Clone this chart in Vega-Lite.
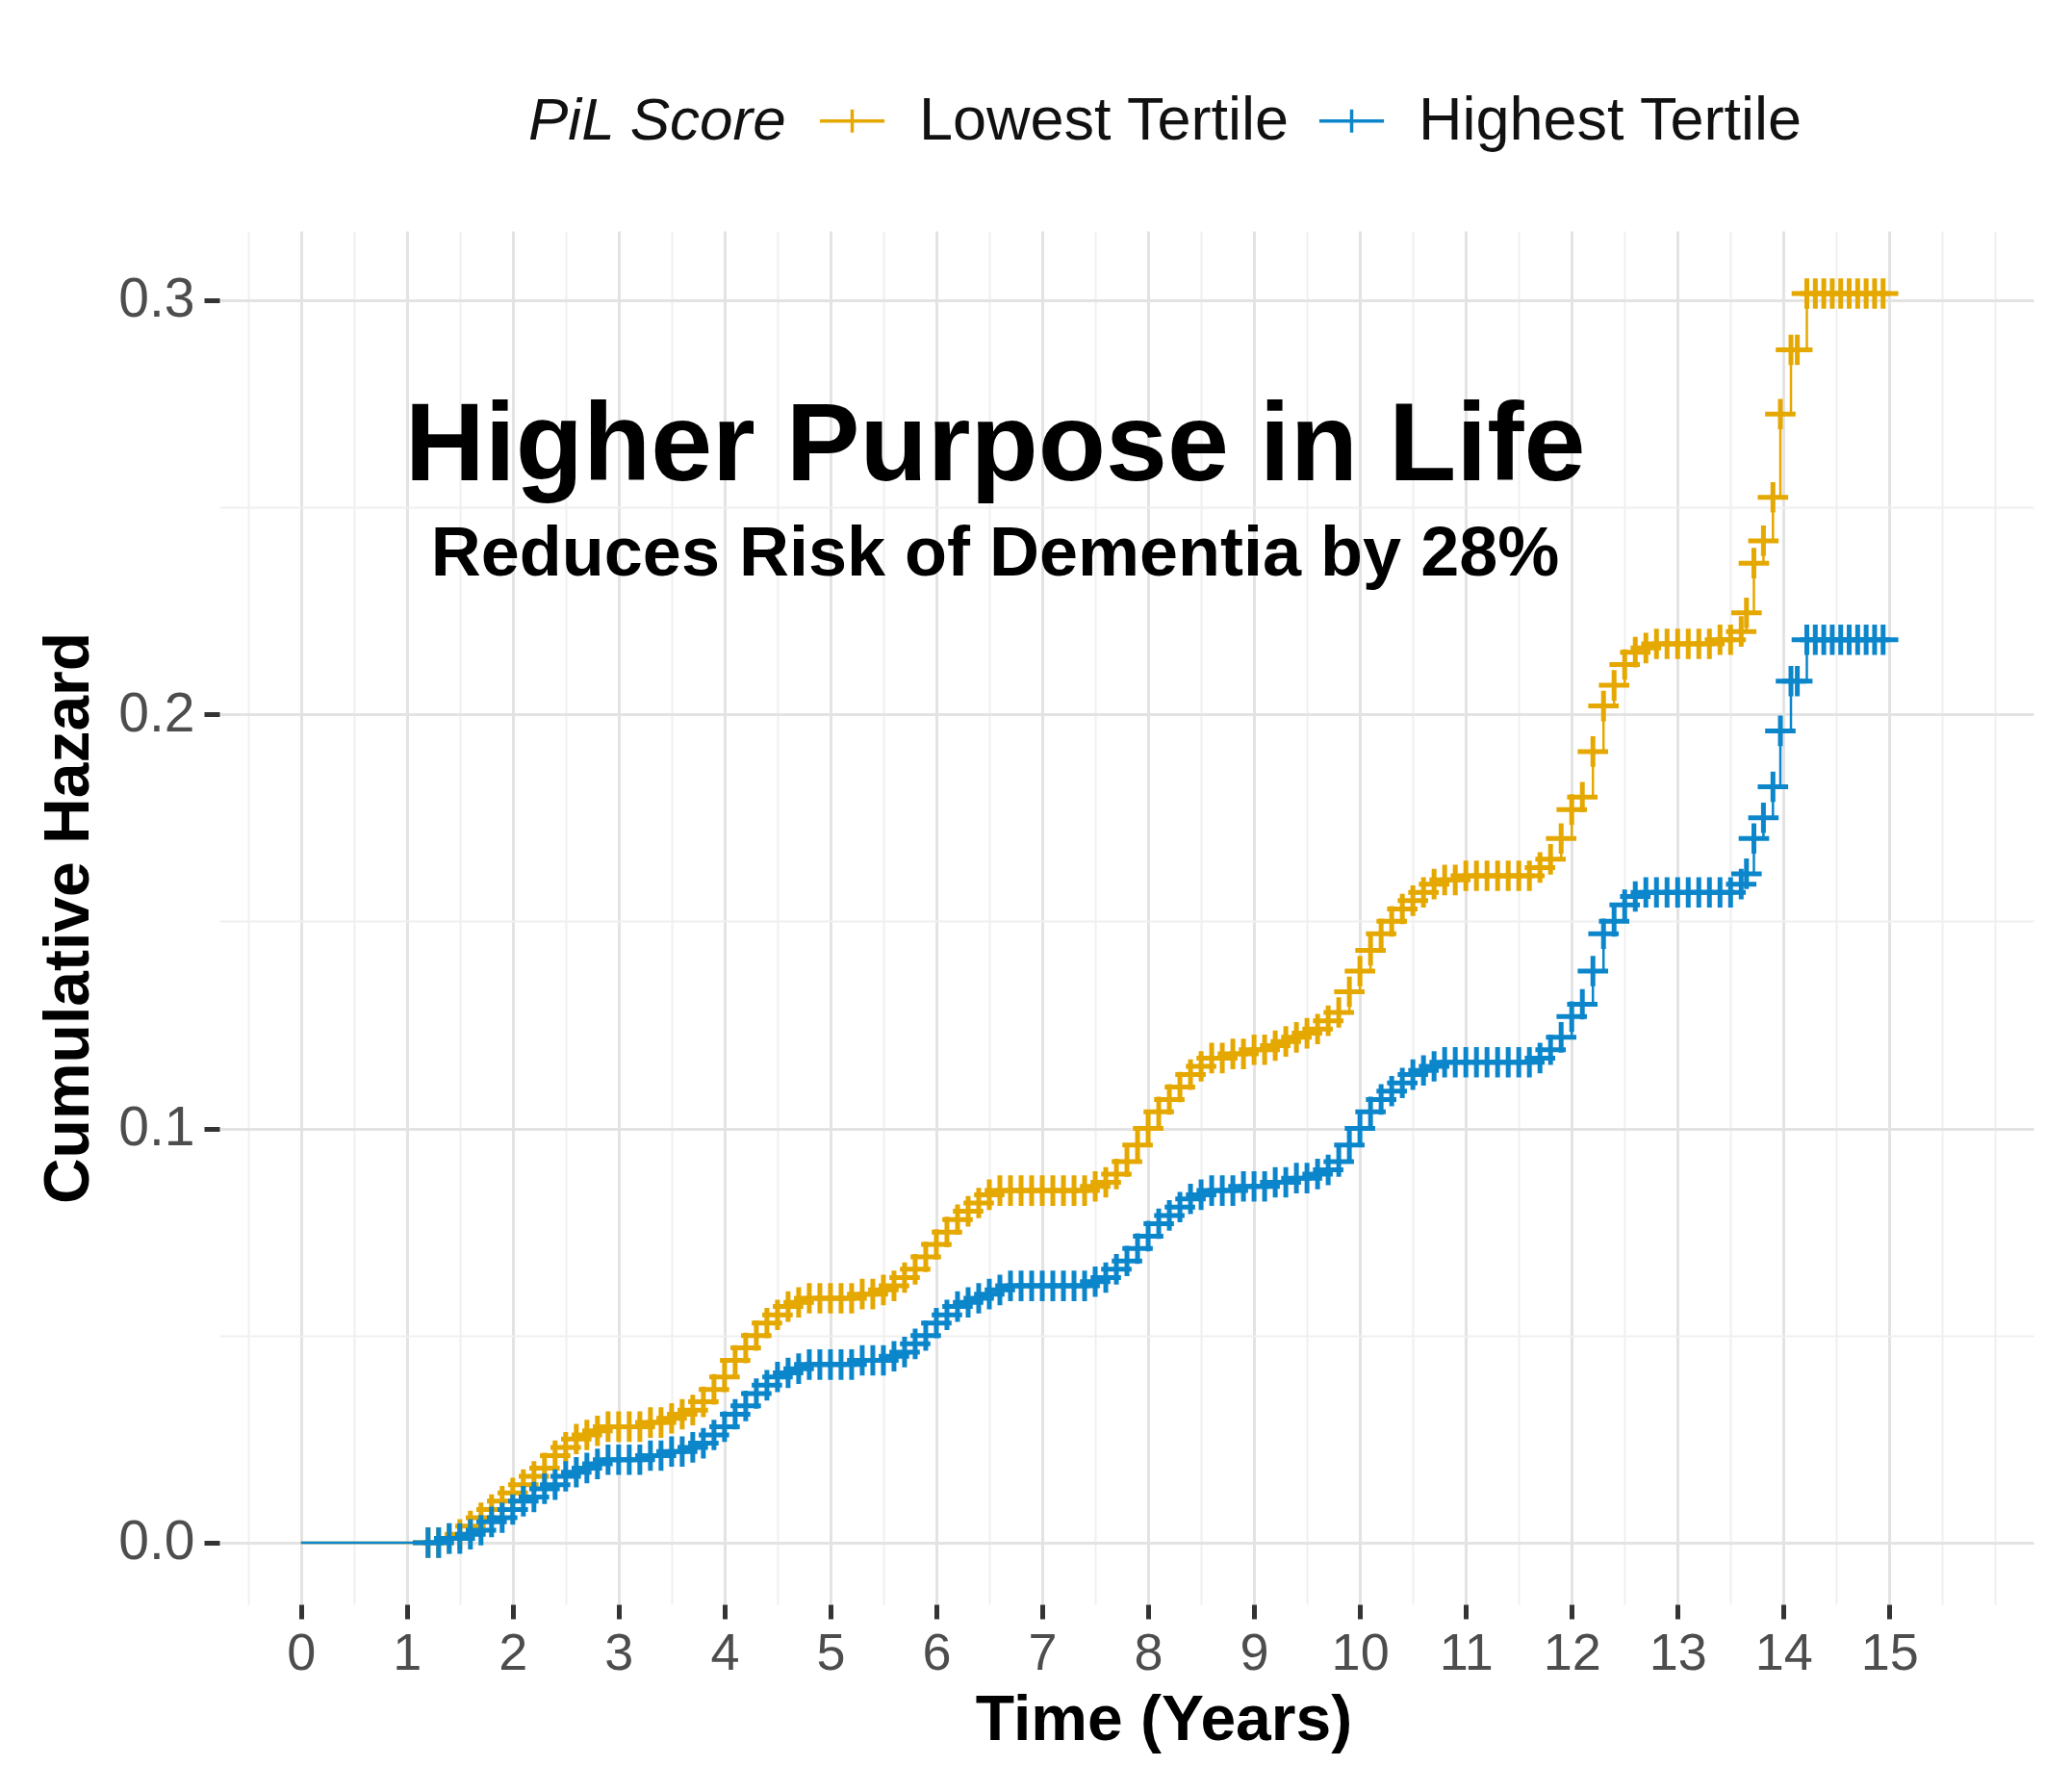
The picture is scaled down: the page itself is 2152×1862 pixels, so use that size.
{
  "$schema": "https://vega.github.io/schema/vega-lite/v6.json",
  "width": 1885,
  "height": 1427,
  "autosize": {"type": "none"},
  "padding": {"left": 228, "top": 240, "right": 39, "bottom": 195},
  "background": "white",
  "config": {
    "view": {"stroke": null},
    "font": "Liberation Sans"
  },
  "data": {
    "values": [
      {"time": 0, "Lowest Tertile": 0, "Highest Tertile": 0, "censor": 0},
      {"time": 1.2, "Lowest Tertile": 0, "Highest Tertile": 0, "censor": 1},
      {"time": 1.3, "Lowest Tertile": 0, "Highest Tertile": 0, "censor": 1},
      {"time": 1.4, "Lowest Tertile": 0.001, "Highest Tertile": 0.001, "censor": 1},
      {"time": 1.5, "Lowest Tertile": 0.002, "Highest Tertile": 0.001, "censor": 1},
      {"time": 1.6, "Lowest Tertile": 0.004, "Highest Tertile": 0.002, "censor": 1},
      {"time": 1.7, "Lowest Tertile": 0.006, "Highest Tertile": 0.003, "censor": 1},
      {"time": 1.8, "Lowest Tertile": 0.008, "Highest Tertile": 0.005, "censor": 1},
      {"time": 1.9, "Lowest Tertile": 0.010, "Highest Tertile": 0.006, "censor": 1},
      {"time": 2.0, "Lowest Tertile": 0.012, "Highest Tertile": 0.008, "censor": 1},
      {"time": 2.1, "Lowest Tertile": 0.014, "Highest Tertile": 0.010, "censor": 1},
      {"time": 2.2, "Lowest Tertile": 0.016, "Highest Tertile": 0.011, "censor": 1},
      {"time": 2.3, "Lowest Tertile": 0.018, "Highest Tertile": 0.013, "censor": 1},
      {"time": 2.4, "Lowest Tertile": 0.021, "Highest Tertile": 0.014, "censor": 1},
      {"time": 2.5, "Lowest Tertile": 0.023, "Highest Tertile": 0.016, "censor": 1},
      {"time": 2.6, "Lowest Tertile": 0.025, "Highest Tertile": 0.017, "censor": 1},
      {"time": 2.7, "Lowest Tertile": 0.026, "Highest Tertile": 0.018, "censor": 1},
      {"time": 2.8, "Lowest Tertile": 0.027, "Highest Tertile": 0.019, "censor": 1},
      {"time": 2.9, "Lowest Tertile": 0.028, "Highest Tertile": 0.020, "censor": 1},
      {"time": 3.0, "Lowest Tertile": 0.028, "Highest Tertile": 0.020, "censor": 1},
      {"time": 3.1, "Lowest Tertile": 0.028, "Highest Tertile": 0.020, "censor": 1},
      {"time": 3.2, "Lowest Tertile": 0.028, "Highest Tertile": 0.020, "censor": 1},
      {"time": 3.3, "Lowest Tertile": 0.029, "Highest Tertile": 0.021, "censor": 1},
      {"time": 3.4, "Lowest Tertile": 0.029, "Highest Tertile": 0.021, "censor": 1},
      {"time": 3.5, "Lowest Tertile": 0.030, "Highest Tertile": 0.022, "censor": 1},
      {"time": 3.6, "Lowest Tertile": 0.031, "Highest Tertile": 0.022, "censor": 1},
      {"time": 3.7, "Lowest Tertile": 0.032, "Highest Tertile": 0.023, "censor": 1},
      {"time": 3.8, "Lowest Tertile": 0.034, "Highest Tertile": 0.024, "censor": 1},
      {"time": 3.9, "Lowest Tertile": 0.037, "Highest Tertile": 0.026, "censor": 1},
      {"time": 4.0, "Lowest Tertile": 0.040, "Highest Tertile": 0.028, "censor": 1},
      {"time": 4.1, "Lowest Tertile": 0.044, "Highest Tertile": 0.031, "censor": 1},
      {"time": 4.2, "Lowest Tertile": 0.047, "Highest Tertile": 0.033, "censor": 1},
      {"time": 4.3, "Lowest Tertile": 0.050, "Highest Tertile": 0.036, "censor": 1},
      {"time": 4.4, "Lowest Tertile": 0.053, "Highest Tertile": 0.038, "censor": 1},
      {"time": 4.5, "Lowest Tertile": 0.055, "Highest Tertile": 0.040, "censor": 1},
      {"time": 4.6, "Lowest Tertile": 0.057, "Highest Tertile": 0.041, "censor": 1},
      {"time": 4.7, "Lowest Tertile": 0.058, "Highest Tertile": 0.042, "censor": 1},
      {"time": 4.8, "Lowest Tertile": 0.059, "Highest Tertile": 0.043, "censor": 1},
      {"time": 4.9, "Lowest Tertile": 0.059, "Highest Tertile": 0.043, "censor": 1},
      {"time": 5.0, "Lowest Tertile": 0.059, "Highest Tertile": 0.043, "censor": 1},
      {"time": 5.1, "Lowest Tertile": 0.059, "Highest Tertile": 0.043, "censor": 1},
      {"time": 5.2, "Lowest Tertile": 0.059, "Highest Tertile": 0.043, "censor": 1},
      {"time": 5.3, "Lowest Tertile": 0.060, "Highest Tertile": 0.044, "censor": 1},
      {"time": 5.4, "Lowest Tertile": 0.060, "Highest Tertile": 0.044, "censor": 1},
      {"time": 5.5, "Lowest Tertile": 0.061, "Highest Tertile": 0.044, "censor": 1},
      {"time": 5.6, "Lowest Tertile": 0.062, "Highest Tertile": 0.045, "censor": 1},
      {"time": 5.7, "Lowest Tertile": 0.064, "Highest Tertile": 0.046, "censor": 1},
      {"time": 5.8, "Lowest Tertile": 0.066, "Highest Tertile": 0.048, "censor": 1},
      {"time": 5.9, "Lowest Tertile": 0.069, "Highest Tertile": 0.050, "censor": 1},
      {"time": 6.0, "Lowest Tertile": 0.072, "Highest Tertile": 0.053, "censor": 1},
      {"time": 6.1, "Lowest Tertile": 0.075, "Highest Tertile": 0.055, "censor": 1},
      {"time": 6.2, "Lowest Tertile": 0.078, "Highest Tertile": 0.057, "censor": 1},
      {"time": 6.3, "Lowest Tertile": 0.080, "Highest Tertile": 0.058, "censor": 1},
      {"time": 6.4, "Lowest Tertile": 0.082, "Highest Tertile": 0.059, "censor": 1},
      {"time": 6.5, "Lowest Tertile": 0.084, "Highest Tertile": 0.060, "censor": 1},
      {"time": 6.6, "Lowest Tertile": 0.085, "Highest Tertile": 0.061, "censor": 1},
      {"time": 6.7, "Lowest Tertile": 0.085, "Highest Tertile": 0.062, "censor": 1},
      {"time": 6.8, "Lowest Tertile": 0.085, "Highest Tertile": 0.062, "censor": 1},
      {"time": 6.9, "Lowest Tertile": 0.085, "Highest Tertile": 0.062, "censor": 1},
      {"time": 7.0, "Lowest Tertile": 0.085, "Highest Tertile": 0.062, "censor": 1},
      {"time": 7.1, "Lowest Tertile": 0.085, "Highest Tertile": 0.062, "censor": 1},
      {"time": 7.2, "Lowest Tertile": 0.085, "Highest Tertile": 0.062, "censor": 1},
      {"time": 7.3, "Lowest Tertile": 0.085, "Highest Tertile": 0.062, "censor": 1},
      {"time": 7.4, "Lowest Tertile": 0.085, "Highest Tertile": 0.062, "censor": 1},
      {"time": 7.5, "Lowest Tertile": 0.086, "Highest Tertile": 0.063, "censor": 1},
      {"time": 7.6, "Lowest Tertile": 0.087, "Highest Tertile": 0.064, "censor": 1},
      {"time": 7.7, "Lowest Tertile": 0.089, "Highest Tertile": 0.066, "censor": 1},
      {"time": 7.8, "Lowest Tertile": 0.092, "Highest Tertile": 0.068, "censor": 1},
      {"time": 7.9, "Lowest Tertile": 0.096, "Highest Tertile": 0.071, "censor": 1},
      {"time": 8.0, "Lowest Tertile": 0.100, "Highest Tertile": 0.074, "censor": 1},
      {"time": 8.1, "Lowest Tertile": 0.104, "Highest Tertile": 0.077, "censor": 1},
      {"time": 8.2, "Lowest Tertile": 0.107, "Highest Tertile": 0.079, "censor": 1},
      {"time": 8.3, "Lowest Tertile": 0.110, "Highest Tertile": 0.081, "censor": 1},
      {"time": 8.4, "Lowest Tertile": 0.113, "Highest Tertile": 0.083, "censor": 1},
      {"time": 8.5, "Lowest Tertile": 0.115, "Highest Tertile": 0.084, "censor": 1},
      {"time": 8.6, "Lowest Tertile": 0.117, "Highest Tertile": 0.085, "censor": 1},
      {"time": 8.7, "Lowest Tertile": 0.117, "Highest Tertile": 0.085, "censor": 1},
      {"time": 8.8, "Lowest Tertile": 0.118, "Highest Tertile": 0.085, "censor": 1},
      {"time": 8.9, "Lowest Tertile": 0.118, "Highest Tertile": 0.086, "censor": 1},
      {"time": 9.0, "Lowest Tertile": 0.119, "Highest Tertile": 0.086, "censor": 1},
      {"time": 9.1, "Lowest Tertile": 0.119, "Highest Tertile": 0.086, "censor": 1},
      {"time": 9.2, "Lowest Tertile": 0.120, "Highest Tertile": 0.087, "censor": 1},
      {"time": 9.3, "Lowest Tertile": 0.121, "Highest Tertile": 0.087, "censor": 1},
      {"time": 9.4, "Lowest Tertile": 0.122, "Highest Tertile": 0.088, "censor": 1},
      {"time": 9.5, "Lowest Tertile": 0.123, "Highest Tertile": 0.088, "censor": 1},
      {"time": 9.6, "Lowest Tertile": 0.124, "Highest Tertile": 0.089, "censor": 1},
      {"time": 9.7, "Lowest Tertile": 0.126, "Highest Tertile": 0.090, "censor": 1},
      {"time": 9.8, "Lowest Tertile": 0.128, "Highest Tertile": 0.092, "censor": 1},
      {"time": 9.9, "Lowest Tertile": 0.133, "Highest Tertile": 0.096, "censor": 1},
      {"time": 10.0, "Lowest Tertile": 0.138, "Highest Tertile": 0.100, "censor": 1},
      {"time": 10.1, "Lowest Tertile": 0.143, "Highest Tertile": 0.104, "censor": 1},
      {"time": 10.2, "Lowest Tertile": 0.147, "Highest Tertile": 0.107, "censor": 1},
      {"time": 10.3, "Lowest Tertile": 0.150, "Highest Tertile": 0.109, "censor": 1},
      {"time": 10.4, "Lowest Tertile": 0.153, "Highest Tertile": 0.111, "censor": 1},
      {"time": 10.5, "Lowest Tertile": 0.155, "Highest Tertile": 0.113, "censor": 1},
      {"time": 10.6, "Lowest Tertile": 0.157, "Highest Tertile": 0.114, "censor": 1},
      {"time": 10.7, "Lowest Tertile": 0.159, "Highest Tertile": 0.115, "censor": 1},
      {"time": 10.8, "Lowest Tertile": 0.160, "Highest Tertile": 0.116, "censor": 1},
      {"time": 10.9, "Lowest Tertile": 0.160, "Highest Tertile": 0.116, "censor": 1},
      {"time": 11.0, "Lowest Tertile": 0.161, "Highest Tertile": 0.116, "censor": 1},
      {"time": 11.1, "Lowest Tertile": 0.161, "Highest Tertile": 0.116, "censor": 1},
      {"time": 11.2, "Lowest Tertile": 0.161, "Highest Tertile": 0.116, "censor": 1},
      {"time": 11.3, "Lowest Tertile": 0.161, "Highest Tertile": 0.116, "censor": 1},
      {"time": 11.4, "Lowest Tertile": 0.161, "Highest Tertile": 0.116, "censor": 1},
      {"time": 11.5, "Lowest Tertile": 0.161, "Highest Tertile": 0.116, "censor": 1},
      {"time": 11.6, "Lowest Tertile": 0.161, "Highest Tertile": 0.116, "censor": 1},
      {"time": 11.7, "Lowest Tertile": 0.163, "Highest Tertile": 0.117, "censor": 1},
      {"time": 11.8, "Lowest Tertile": 0.165, "Highest Tertile": 0.119, "censor": 1},
      {"time": 11.9, "Lowest Tertile": 0.170, "Highest Tertile": 0.122, "censor": 1},
      {"time": 12.0, "Lowest Tertile": 0.177, "Highest Tertile": 0.127, "censor": 1},
      {"time": 12.1, "Lowest Tertile": 0.180, "Highest Tertile": 0.130, "censor": 1},
      {"time": 12.2, "Lowest Tertile": 0.191, "Highest Tertile": 0.138, "censor": 1},
      {"time": 12.3, "Lowest Tertile": 0.202, "Highest Tertile": 0.147, "censor": 1},
      {"time": 12.4, "Lowest Tertile": 0.207, "Highest Tertile": 0.150, "censor": 1},
      {"time": 12.5, "Lowest Tertile": 0.212, "Highest Tertile": 0.154, "censor": 1},
      {"time": 12.6, "Lowest Tertile": 0.215, "Highest Tertile": 0.156, "censor": 1},
      {"time": 12.7, "Lowest Tertile": 0.216, "Highest Tertile": 0.157, "censor": 1},
      {"time": 12.8, "Lowest Tertile": 0.217, "Highest Tertile": 0.157, "censor": 1},
      {"time": 12.9, "Lowest Tertile": 0.217, "Highest Tertile": 0.157, "censor": 1},
      {"time": 13.0, "Lowest Tertile": 0.217, "Highest Tertile": 0.157, "censor": 1},
      {"time": 13.1, "Lowest Tertile": 0.217, "Highest Tertile": 0.157, "censor": 1},
      {"time": 13.2, "Lowest Tertile": 0.217, "Highest Tertile": 0.157, "censor": 1},
      {"time": 13.3, "Lowest Tertile": 0.217, "Highest Tertile": 0.157, "censor": 1},
      {"time": 13.4, "Lowest Tertile": 0.218, "Highest Tertile": 0.157, "censor": 1},
      {"time": 13.5, "Lowest Tertile": 0.218, "Highest Tertile": 0.157, "censor": 1},
      {"time": 13.6, "Lowest Tertile": 0.220, "Highest Tertile": 0.159, "censor": 1},
      {"time": 13.65, "Lowest Tertile": 0.2245, "Highest Tertile": 0.1615, "censor": 1},
      {"time": 13.72, "Lowest Tertile": 0.2365, "Highest Tertile": 0.170, "censor": 1},
      {"time": 13.81, "Lowest Tertile": 0.2419, "Highest Tertile": 0.175, "censor": 1},
      {"time": 13.9, "Lowest Tertile": 0.2524, "Highest Tertile": 0.1825, "censor": 1},
      {"time": 13.97, "Lowest Tertile": 0.2725, "Highest Tertile": 0.196, "censor": 1},
      {"time": 14.07, "Lowest Tertile": 0.288, "Highest Tertile": 0.208, "censor": 1},
      {"time": 14.13, "Lowest Tertile": 0.288, "Highest Tertile": 0.208, "censor": 1},
      {"time": 14.22, "Lowest Tertile": 0.3016, "Highest Tertile": 0.218, "censor": 1},
      {"time": 14.3, "Lowest Tertile": 0.3016, "Highest Tertile": 0.218, "censor": 1},
      {"time": 14.38, "Lowest Tertile": 0.3016, "Highest Tertile": 0.218, "censor": 1},
      {"time": 14.46, "Lowest Tertile": 0.3016, "Highest Tertile": 0.218, "censor": 1},
      {"time": 14.54, "Lowest Tertile": 0.3016, "Highest Tertile": 0.218, "censor": 1},
      {"time": 14.62, "Lowest Tertile": 0.3016, "Highest Tertile": 0.218, "censor": 1},
      {"time": 14.7, "Lowest Tertile": 0.3016, "Highest Tertile": 0.218, "censor": 1},
      {"time": 14.78, "Lowest Tertile": 0.3016, "Highest Tertile": 0.218, "censor": 1},
      {"time": 14.86, "Lowest Tertile": 0.3016, "Highest Tertile": 0.218, "censor": 1},
      {"time": 14.94, "Lowest Tertile": 0.3016, "Highest Tertile": 0.218, "censor": 1},
      {"time": 15.0, "Lowest Tertile": 0.3016, "Highest Tertile": 0.218, "censor": 0}
    ]
  },
  "layer": [
    {
      "transform": [
        {"fold": ["Lowest Tertile", "Highest Tertile"], "as": ["group", "hazard"]}
      ],
      "encoding": {
        "x": {
          "field": "time",
          "type": "quantitative",
          "scale": {"domain": [-0.77, 16.36], "nice": false, "zero": false},
          "axis": {
            "title": "Time (Years)",
            "titleFontSize": 66,
            "titleFontWeight": "bold",
            "titleColor": "black",
            "titlePadding": 10,
            "titleX": 981,
            "titleAnchor": "start",
            "titleAlign": "center",
            "values": [-0.5, 0, 0.5, 1, 1.5, 2, 2.5, 3, 3.5, 4, 4.5, 5, 5.5, 6, 6.5, 7, 7.5, 8, 8.5, 9, 9.5, 10, 10.5, 11, 11.5, 12, 12.5, 13, 13.5, 14, 14.5, 15, 15.5, 16],
            "labelExpr": "datum.value % 1 == 0 && datum.value <= 15 ? format(datum.value, 'd') : ''",
            "labelFontSize": 54,
            "labelColor": "#4D4D4D",
            "labelPadding": 9,
            "labelOverlap": false,
            "labelFlush": false,
            "domain": false,
            "tickSize": 15,
            "tickWidth": 5,
            "tickColor": "#333333",
            "tickOpacity": {"condition": {"test": "datum.value % 1 != 0 || datum.value > 15", "value": 0}, "value": 1},
            "grid": true,
            "gridColor": {"condition": {"test": "datum.value % 1 == 0 && datum.value <= 15", "value": "#E3E3E3"}, "value": "#F0F0F0"},
            "gridWidth": {"condition": {"test": "datum.value % 1 == 0 && datum.value <= 15", "value": 3}, "value": 2}
          }
        },
        "y": {
          "field": "hazard",
          "type": "quantitative",
          "scale": {"domain": [-0.0149, 0.3167], "nice": false, "zero": false},
          "axis": {
            "title": "Cumulative Hazard",
            "titleFontSize": 66,
            "titleFontWeight": "bold",
            "titleColor": "black",
            "titleBaseline": "alphabetic",
            "titlePadding": 31,
            "values": [0, 0.05, 0.1, 0.15, 0.2, 0.25, 0.3],
            "labelExpr": "round(datum.value * 100) % 10 == 0 ? format(datum.value, '.1f') : ''",
            "labelFontSize": 57,
            "labelColor": "#4D4D4D",
            "labelPadding": 10,
            "labelOverlap": false,
            "labelFlush": false,
            "domain": false,
            "tickSize": 16,
            "tickWidth": 5,
            "tickColor": "#333333",
            "tickOpacity": {"condition": {"test": "round(datum.value * 100) % 10 != 0", "value": 0}, "value": 1},
            "grid": true,
            "gridColor": {"condition": {"test": "round(datum.value * 100) % 10 == 0", "value": "#E3E3E3"}, "value": "#F0F0F0"},
            "gridWidth": {"condition": {"test": "round(datum.value * 100) % 10 == 0", "value": 3}, "value": 2}
          }
        },
        "color": {
          "field": "group",
          "type": "nominal",
          "scale": {"domain": ["Lowest Tertile", "Highest Tertile"], "range": ["#E5A800", "#0C86CB"]},
          "legend": {
            "title": "PiL Score",
            "orient": "none",
            "legendX": 321,
            "legendY": -146,
            "direction": "horizontal",
            "titleOrient": "left",
            "titleFontSize": 62,
            "titleFontStyle": "italic",
            "titleFontWeight": "normal",
            "titleColor": "#111111",
            "titlePadding": 36,
            "titleLimit": 1000,
            "labelFontSize": 63,
            "labelColor": "#111111",
            "labelOffset": 38,
            "labelLimit": 1000,
            "columnPadding": 22,
            "padding": 0,
            "symbolType": "M-1.4,0H1.4M0,-0.5V0.5",
            "symbolSize": 2304,
            "symbolStrokeWidth": 3.5,
            "symbolFillColor": "transparent",
            "symbolOpacity": 1
          }
        }
      },
      "layer": [
        {
          "mark": {"type": "line", "interpolate": "step-after", "strokeWidth": 2.5}
        },
        {
          "transform": [{"filter": "datum.censor == 1"}],
          "mark": {"type": "point", "shape": "M-1,0H1M0,-1V1", "size": 1000, "strokeWidth": 5, "filled": false, "opacity": 1},
          "encoding": {
            "order": {"field": "group", "sort": "descending"}
          }
        }
      ]
    },
    {
      "data": {"values": [{"headline": "Higher Purpose in Life"}]},
      "mark": {"type": "text", "fontSize": 115, "fontWeight": "bold", "color": "black", "align": "center", "baseline": "alphabetic"},
      "encoding": {
        "x": {"datum": 6.555, "type": "quantitative"},
        "y": {"datum": 0.2565, "type": "quantitative"},
        "text": {"field": "headline"}
      }
    },
    {
      "data": {"values": [{"subline": "Reduces Risk of Dementia by 28%"}]},
      "mark": {"type": "text", "fontSize": 72, "fontWeight": "bold", "color": "black", "align": "center", "baseline": "alphabetic"},
      "encoding": {
        "x": {"datum": 6.555, "type": "quantitative"},
        "y": {"datum": 0.2335, "type": "quantitative"},
        "text": {"field": "subline"}
      }
    }
  ]
}
